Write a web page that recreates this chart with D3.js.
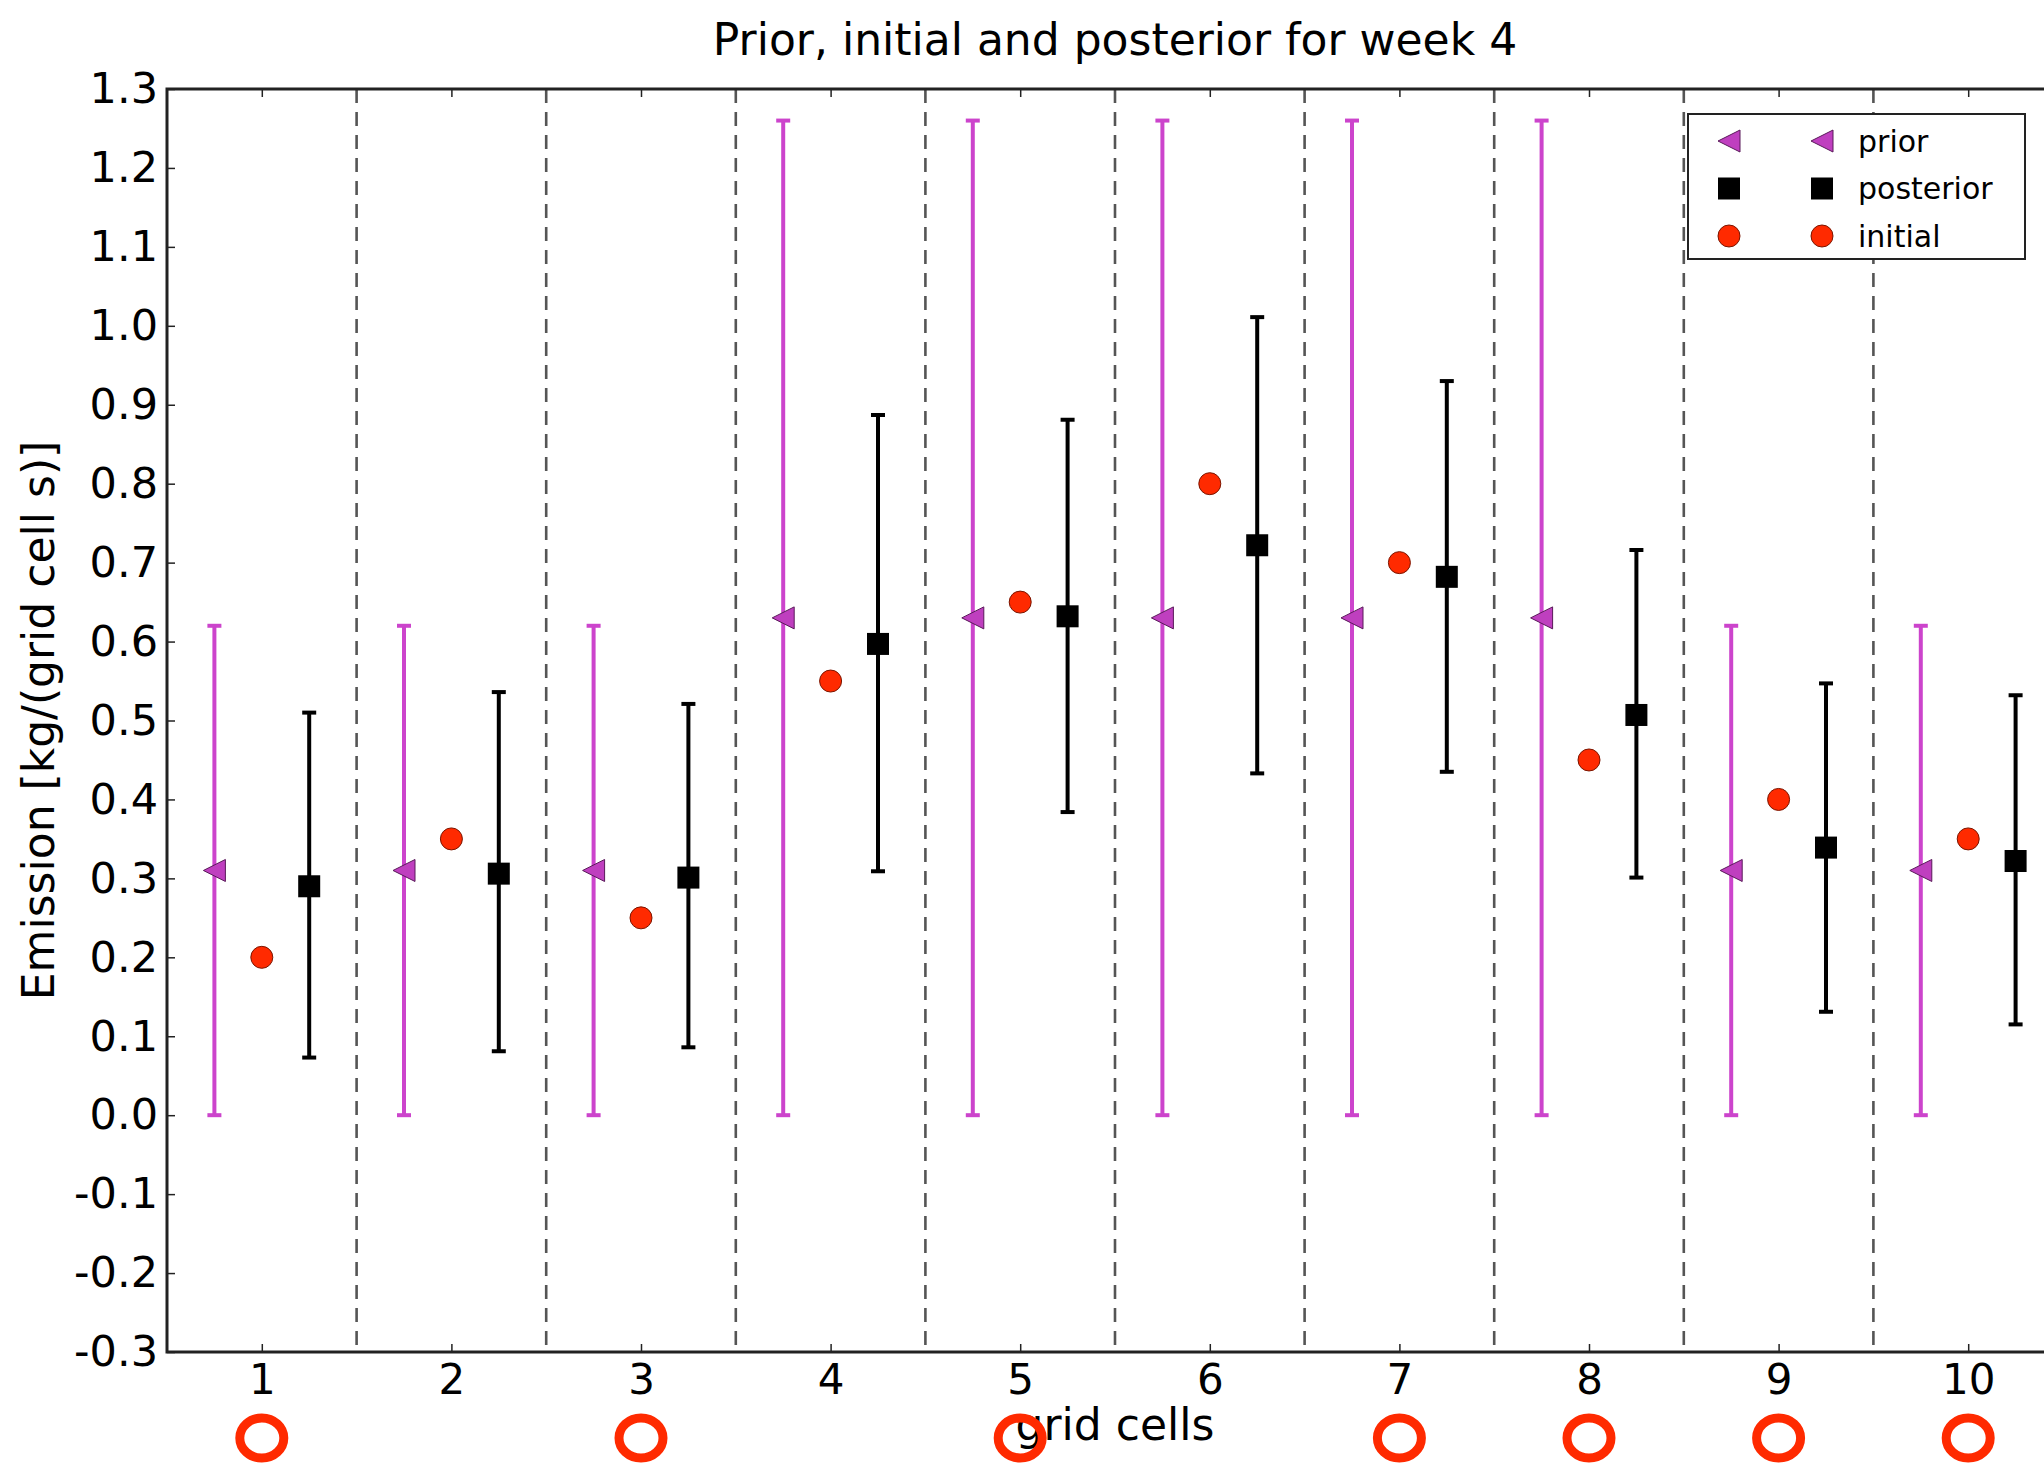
<!DOCTYPE html>
<html>
<head>
<meta charset="utf-8">
<script src="https://cdnjs.cloudflare.com/ajax/libs/d3/7.8.5/d3.min.js"></script>
<style>
  body { margin: 0; background: #fff; }
  svg { display: block; font-family: "DejaVu Sans", sans-serif; }
</style>
</head>
<body>
<div id="chart"></div>
<script>
// data
var cells = [1, 2, 3, 4, 5, 6, 7, 8, 9, 10];
var priorVal = [0.31, 0.31, 0.31, 0.63, 0.63, 0.63, 0.63, 0.63, 0.31, 0.31];
var priorLow = [0, 0, 0, 0, 0, 0, 0, 0, 0, 0];
var priorHigh = [0.62, 0.62, 0.62, 1.26, 1.26, 1.26, 1.26, 1.26, 0.62, 0.62];
var initialVal = [0.2, 0.35, 0.25, 0.55, 0.65, 0.8, 0.7, 0.45, 0.4, 0.35];
var postVal = [0.29, 0.306, 0.301, 0.597, 0.632, 0.722, 0.682, 0.507, 0.339, 0.322];
var postLow = [0.073, 0.081, 0.086, 0.309, 0.384, 0.433, 0.435, 0.301, 0.131, 0.115];
var postHigh = [0.51, 0.536, 0.521, 0.887, 0.881, 1.011, 0.93, 0.716, 0.547, 0.532];
var flaggedCells = [1, 3, 5, 7, 8, 9, 10];
var yTicks = [-0.3, -0.2, -0.1, 0.0, 0.1, 0.2, 0.3, 0.4, 0.5, 0.6, 0.7, 0.8, 0.9, 1.0, 1.1, 1.2, 1.3];
var legendItems = ["prior", "posterior", "initial"];

var svgWidth = 2044;
var svgHeight = 1464;

var margin = { top: 89, left: 167 };
var width = 1896;   // right edge falls off the picture
var height = 1263;

var magenta = "#cc44cc";
var magentaMark = "#bf3fbf";
var red = "#ff2a00";

var svg = d3.select("#chart")
  .append("svg")
  .attr("width", svgWidth)
  .attr("height", svgHeight);

var chartGroup = svg.append("g")
  .attr("transform", `translate(${margin.left}, ${margin.top})`);

// scales
var x = d3.scaleLinear().domain([0.5, 10.5]).range([0, width]);
var y = d3.scaleLinear().domain([-0.3, 1.3]).range([height, 0]);

var rows = cells.map(function(c, i) {
  return {
    cell: c,
    prior: priorVal[i], pLo: priorLow[i], pHi: priorHigh[i],
    init: initialVal[i],
    post: postVal[i], qLo: postLow[i], qHi: postHigh[i]
  };
});

// dashed separators between cells
chartGroup.selectAll(".sep")
  .data(cells.slice(0, -1))
  .enter()
  .append("line")
  .attr("x1", d => x(d + 0.5))
  .attr("x2", d => x(d + 0.5))
  .attr("y1", 0)
  .attr("y2", height)
  .attr("stroke", "#555")
  .attr("stroke-width", 2.6)
  .attr("stroke-dasharray", "14,9");

// axes (inward ticks like matplotlib)
var bottomAxis = d3.axisBottom(x).tickValues(cells).tickSize(-8).tickPadding(12).tickFormat(d3.format("d"));
var topAxis = d3.axisTop(x).tickValues(cells).tickSize(-8).tickFormat("");
var leftAxis = d3.axisLeft(y).tickValues(yTicks).tickSize(-8).tickPadding(9)
  .tickFormat(d => d3.format(".1f")(d).replace("−", "-"));

function styleAxis(g, size) {
  g.select(".domain").remove();
  g.selectAll(".tick line").attr("stroke", "#222").attr("stroke-width", 1.5);
  g.selectAll(".tick text").attr("font-size", size).attr("fill", "#000")
    .attr("font-family", "DejaVu Sans, sans-serif");
}

chartGroup.append("g")
  .attr("transform", `translate(0, ${height})`)
  .call(bottomAxis)
  .call(styleAxis, 42);

chartGroup.append("g")
  .call(topAxis)
  .call(styleAxis, 42);

chartGroup.append("g")
  .call(leftAxis)
  .call(styleAxis, 43);

// frame
chartGroup.append("rect")
  .attr("x", 0)
  .attr("y", 0)
  .attr("width", width)
  .attr("height", height)
  .attr("fill", "none")
  .attr("stroke", "#222")
  .attr("stroke-width", 3);

// error bars helper
function errorBars(data, dx, lo, hi, color) {
  var g = chartGroup.append("g");
  g.selectAll("line.v")
    .data(data).enter().append("line")
    .attr("x1", d => x(d.cell + dx)).attr("x2", d => x(d.cell + dx))
    .attr("y1", d => y(d[lo])).attr("y2", d => y(d[hi]))
    .attr("stroke", color).attr("stroke-width", 4);
  [lo, hi].forEach(function(k) {
    g.selectAll("line." + k)
      .data(data).enter().append("line")
      .attr("x1", d => x(d.cell + dx) - 7).attr("x2", d => x(d.cell + dx) + 7)
      .attr("y1", d => y(d[k])).attr("y2", d => y(d[k]))
      .attr("stroke", color).attr("stroke-width", 4);
  });
}

errorBars(rows, -0.25, "pLo", "pHi", magenta);
errorBars(rows, 0.25, "qLo", "qHi", "#000");

// markers: left-pointing triangle centred on its box, like matplotlib '<'
var tri = "M-11,0L11,-11L11,11Z";

chartGroup.selectAll(".prior")
  .data(rows).enter().append("path")
  .attr("d", tri)
  .attr("transform", d => `translate(${x(d.cell - 0.25)}, ${y(d.prior)})`)
  .attr("fill", magentaMark)
  .attr("stroke", "#5a1a5a")
  .attr("stroke-width", 1);

chartGroup.selectAll(".init")
  .data(rows).enter().append("circle")
  .attr("cx", d => x(d.cell))
  .attr("cy", d => y(d.init))
  .attr("r", 11)
  .attr("fill", red)
  .attr("stroke", "#7a1500")
  .attr("stroke-width", 1);

chartGroup.selectAll(".post")
  .data(rows).enter().append("rect")
  .attr("x", d => x(d.cell + 0.25) - 11)
  .attr("y", d => y(d.post) - 11)
  .attr("width", 22)
  .attr("height", 22)
  .attr("fill", "#000");

// legend
var legend = svg.append("g")
  .attr("transform", "translate(1688, 114)");

legend.append("rect")
  .attr("width", 337)
  .attr("height", 145)
  .attr("fill", "#fff")
  .attr("stroke", "#222")
  .attr("stroke-width", 2);

var legendRows = legend.selectAll(".item")
  .data(legendItems).enter().append("g")
  .attr("transform", (d, i) => `translate(0, ${27 + i * 47.5})`);

[41, 134].forEach(function(mx) {
  legendRows.append("path")
    .attr("d", function(d) {
      if (d === "prior") return tri;
      if (d === "posterior") return d3.symbol().type(d3.symbolSquare).size(484)();
      return d3.symbol().type(d3.symbolCircle).size(380)();
    })
    .attr("transform", `translate(${mx}, 0)`)
    .attr("fill", d => d === "prior" ? magentaMark : d === "posterior" ? "#000" : red)
    .attr("stroke", d => d === "prior" ? "#5a1a5a" : d === "posterior" ? "none" : "#7a1500")
    .attr("stroke-width", 1);
});

legendRows.append("text")
  .attr("x", 170)
  .attr("dy", "0.35em")
  .attr("font-size", 30)
  .attr("fill", "#000")
  .text(d => d);

// title and axis labels
svg.append("text")
  .attr("x", margin.left + width / 2)
  .attr("y", 55)
  .attr("text-anchor", "middle")
  .attr("font-size", 44)
  .text("Prior, initial and posterior for week 4");

svg.append("text")
  .attr("x", margin.left + width / 2)
  .attr("y", 1440)
  .attr("text-anchor", "middle")
  .attr("font-size", 44)
  .text("grid cells");

svg.append("text")
  .attr("transform", `translate(54, ${margin.top + height / 2}) rotate(-90)`)
  .attr("text-anchor", "middle")
  .attr("font-size", 44)
  .text("Emission [kg/(grid cell s)]");

// red rings under flagged cells
svg.selectAll(".flag")
  .data(flaggedCells).enter().append("ellipse")
  .attr("cx", d => margin.left + x(d))
  .attr("cy", 1438)
  .attr("rx", 22)
  .attr("ry", 20)
  .attr("fill", "none")
  .attr("stroke", red)
  .attr("stroke-width", 9);
</script>
</body>
</html>
